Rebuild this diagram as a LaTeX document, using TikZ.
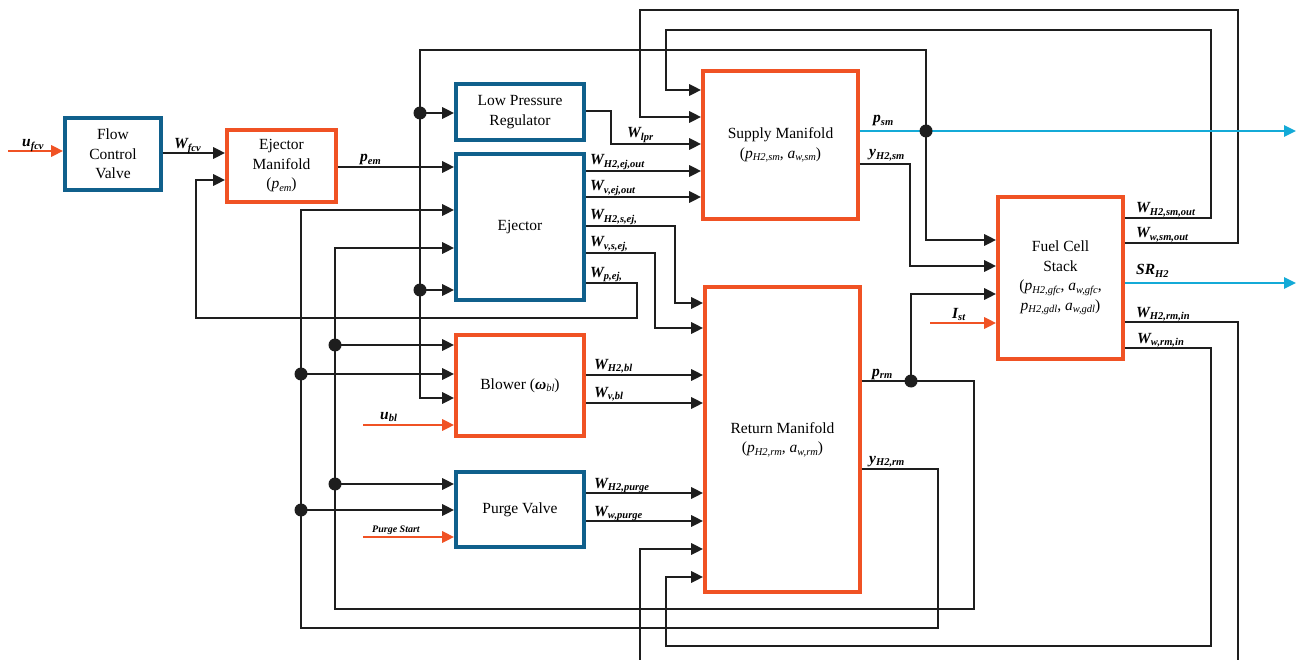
\documentclass[tikz,border=0pt]{standalone}
\usepackage{fontspec}
\setmainfont{Liberation Serif}
\usetikzlibrary{arrows.meta,calc}
\definecolor{bboxc}{RGB}{16,96,140}
\definecolor{oboxc}{RGB}{240,82,36}
\definecolor{cyanc}{RGB}{20,170,215}
\definecolor{linec}{RGB}{30,30,30}
\newcommand{\sg}[2]{{\fontsize{15.5}{15}\selectfont\bfseries\itshape #1\raisebox{-0.35ex}{\fontsize{10.5}{10}\selectfont #2}}}
\newcommand{\bx}[2]{\textit{#1}\raisebox{-0.35ex}{\fontsize{10.5}{10.5}\selectfont\itshape #2}}
\tikzset{
  box/.style={draw, line width=3.6pt, fill=white, align=center, inner sep=0pt,
    font=\fontsize{15.5}{19.5}\selectfont},
  bbox/.style={box, draw=bboxc},
  obox/.style={box, draw=oboxc},
  wire/.style={draw=linec, line width=2.8pt},
  arr/.style={wire, -{Triangle[length=12pt,width=11pt]}},
  oarr/.style={draw=oboxc, line width=2.8pt, -{Triangle[length=12pt,width=11pt]}},
  carr/.style={draw=cyanc, line width=2.8pt, -{Triangle[length=12pt,width=11pt]}},
  jdot/.style={circle, fill=linec, inner sep=0pt, minimum size=13pt},
  lbl/.style={anchor=base west, inner sep=0pt}
}
\begin{document}
\begin{tikzpicture}[x=1pt,y=-1pt]
\useasboundingbox (0,0) rectangle (1306,660);
\clip (0,0) rectangle (1306,660);
\fill[white] (0,0) rectangle (1306,660);

% boxes
\node[bbox, minimum width=96, minimum height=72] (FCV) at (113,154) {Flow\\Control\\Valve};
\node[obox, minimum width=109, minimum height=72] (EJM) at (281.5,166) {Ejector\\Manifold\\(\bx{p}{em})};
\node[bbox, minimum width=128, minimum height=56] (LPR) at (520,112) {Low Pressure\\Regulator};
\node[bbox, minimum width=128, minimum height=146] (EJ) at (520,227) {Ejector};
\node[obox, minimum width=155, minimum height=148] (SM) at (780.5,145) {Supply Manifold\\(\bx{p}{H2,sm}, \bx{a}{w,sm})};
\node[obox, minimum width=125, minimum height=162] (FC) at (1060.5,278) {Fuel Cell\\Stack\\(\bx{p}{H2,gfc}, \bx{a}{w,gfc},\\\bx{p}{H2,gdl}, \bx{a}{w,gdl})};
\node[obox, minimum width=128, minimum height=101] (BL) at (520,385.5) {Blower ({\bfseries\itshape ω}\raisebox{-0.35ex}{\fontsize{10.5}{10.5}\selectfont\itshape bl})};
\node[bbox, minimum width=128, minimum height=75] (PV) at (520,509.5) {Purge Valve};
\node[obox, minimum width=155, minimum height=305] (RM) at (782.5,439.5) {Return Manifold\\(\bx{p}{H2,rm}, \bx{a}{w,rm})};

% junction positions
\coordinate (jsm) at (926,131);
\coordinate (jrm) at (911,381);
\coordinate (j1) at (420,113);
\coordinate (j2) at (420,290);
\coordinate (j3) at (335,345);
\coordinate (j4) at (301,374);
\coordinate (j5) at (335,484);
\coordinate (j6) at (301,510);
\coordinate (uin) at (8,151);
\coordinate (ubl) at (363,425);
\coordinate (ups) at (363,537);
\coordinate (ist) at (930,323);
\coordinate (psmout) at (1296,131);
\coordinate (srout) at (1296,283);

% inputs
\draw[oarr] (uin) -- (FCV.west |- uin);
\draw[oarr] (ubl) -- (BL.west |- ubl);
\draw[oarr] (ups) -- (PV.west |- ups);
\draw[oarr] (ist) -- (FC.west |- ist);

\draw[arr] (FCV.east |- 0,153) -- (EJM.west |- 0,153);
\draw[arr] (EJM.east |- 0,167) -- (EJ.west |- 0,167);
\draw[arr] (EJ.east |- 0,283) -- (637,283) -- (637,318) -- (196,318) -- (196,180) -- (EJM.west |- 0,180);

% p_sm bus
\draw[arr] (jsm) -- (jsm |- 0,50) -- (420,50) -- (420,398) -- (BL.west |- 0,398);
\draw[arr] (jsm) -- (jsm |- 0,240) -- (FC.west |- 0,240);
\draw[arr] (j1) -- (LPR.west |- j1);
\draw[arr] (j2) -- (EJ.west |- j2);

% outputs to supply manifold
\draw[arr] (LPR.east |- 0,111) -- (611,111) -- (611,144) -- (SM.west |- 0,144);
\draw[arr] (EJ.east |- 0,171) -- (SM.west |- 0,171);
\draw[arr] (EJ.east |- 0,197) -- (SM.west |- 0,197);
\draw[arr] (EJ.east |- 0,226) -- (675,226) -- (675,303) -- (RM.west |- 0,303);
\draw[arr] (EJ.east |- 0,253) -- (655,253) -- (655,328) -- (RM.west |- 0,328);

% y_H2,sm
\draw[arr] (SM.east |- 0,164) -- (910,164) -- (910,266) -- (FC.west |- 0,266);

% p_rm
\draw[arr] (RM.east |- jrm) -- (974,381) -- (974,609) -- (335,609) -- (335,248) -- (EJ.west |- 0,248);
\draw[arr] (jrm) -- (jrm |- 0,294) -- (FC.west |- 0,294);
% y_H2,rm
\draw[arr] (RM.east |- 0,469) -- (938,469) -- (938,628) -- (301,628) -- (301,210) -- (EJ.west |- 0,210);
\draw[arr] (j3) -- (BL.west |- j3);
\draw[arr] (j4) -- (BL.west |- j4);
\draw[arr] (j5) -- (PV.west |- j5);
\draw[arr] (j6) -- (PV.west |- j6);

% blower / purge outputs
\draw[arr] (BL.east |- 0,375) -- (RM.west |- 0,375);
\draw[arr] (BL.east |- 0,403) -- (RM.west |- 0,403);
\draw[arr] (PV.east |- 0,493) -- (RM.west |- 0,493);
\draw[arr] (PV.east |- 0,521) -- (RM.west |- 0,521);

% stack outputs
\draw[arr] (FC.east |- 0,218) -- (1211,218) -- (1211,30) -- (666,30) -- (666,90) -- (SM.west |- 0,90);
\draw[arr] (FC.east |- 0,243) -- (1238,243) -- (1238,10) -- (640,10) -- (640,117) -- (SM.west |- 0,117);
\draw[arr] (FC.east |- 0,322) -- (1238,322) -- (1238,672) -- (640,672) -- (640,549) -- (RM.west |- 0,549);
\draw[arr] (FC.east |- 0,348) -- (1211,348) -- (1211,646) -- (666,646) -- (666,577) -- (RM.west |- 0,577);

% cyan outputs
\draw[carr] (SM.east |- psmout) -- (psmout);
\draw[carr] (FC.east |- srout) -- (srout);

% dots
\foreach \j in {jsm,jrm,j1,j2,j3,j4,j5,j6} \node[jdot] at (\j) {};

% labels
\node[lbl] at (22,147) {\sg{u}{fcv}};
\node[lbl] at (174,149) {\sg{W}{fcv}};
\node[lbl] at (360,162) {\sg{p}{em}};
\node[lbl] at (627,138) {\sg{W}{lpr}};
\node[lbl] at (590,165) {\sg{W}{H2,ej,out}};
\node[lbl] at (590,191) {\sg{W}{v,ej,out}};
\node[lbl] at (590,220) {\sg{W}{H2,s,ej,}};
\node[lbl] at (590,247) {\sg{W}{v,s,ej,}};
\node[lbl] at (590,277) {\sg{W}{p,ej,}};
\node[lbl] at (873,123) {\sg{p}{sm}};
\node[lbl] at (869,157) {\sg{y}{H2,sm}};
\node[lbl] at (1136,213) {\sg{W}{H2,sm,out}};
\node[lbl] at (1136,238) {\sg{W}{w,sm,out}};
\node[lbl] at (1136,275) {\sg{SR}{H2}};
\node[lbl] at (1136,317) {\sg{W}{H2,rm,in}};
\node[lbl] at (1137,343) {\sg{W}{w,rm,in}};
\node[lbl] at (952,318) {\sg{I}{st}};
\node[lbl] at (872,376) {\sg{p}{rm}};
\node[lbl] at (869,463) {\sg{y}{H2,rm}};
\node[lbl] at (594,369) {\sg{W}{H2,bl}};
\node[lbl] at (594,397) {\sg{W}{v,bl}};
\node[lbl] at (380,419) {\sg{u}{bl}};
\node[lbl] at (594,488) {\sg{W}{H2,purge}};
\node[lbl] at (594,516) {\sg{W}{w,purge}};
\node[lbl] at (372,532) {\fontsize{10}{10}\selectfont\bfseries\itshape Purge Start};
\end{tikzpicture}
\end{document}
